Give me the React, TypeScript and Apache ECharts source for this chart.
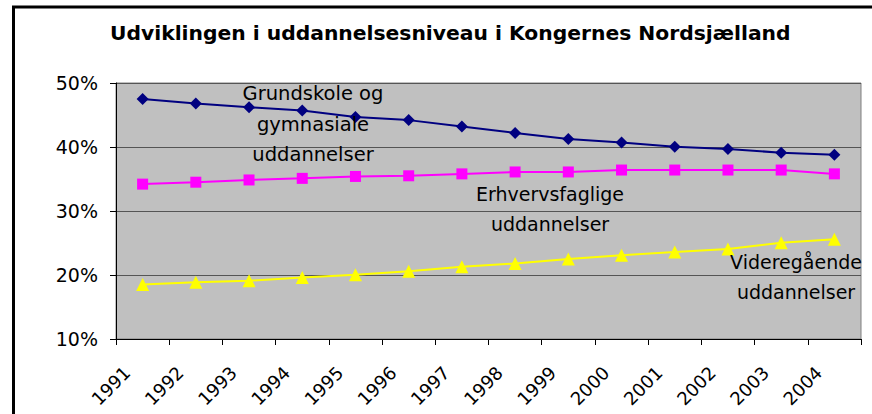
import React, { useEffect, useRef } from "react";
import * as echarts from "echarts";

const years = ["1991","1992","1993","1994","1995","1996","1997","1998","1999","2000","2001","2002","2003","2004"];
const grundskole = [47.5, 46.8, 46.2, 45.7, 44.7, 44.2, 43.2, 42.2, 41.25, 40.7, 40.05, 39.7, 39.1, 38.8];
const erhvervsfaglige = [34.2, 34.5, 34.85, 35.1, 35.4, 35.5, 35.8, 36.1, 36.1, 36.4, 36.4, 36.4, 36.4, 35.8];
const videregaaende = [18.5, 18.85, 19.1, 19.6, 20.05, 20.6, 21.3, 21.8, 22.5, 23.1, 23.6, 24.05, 25.05, 25.6];
const titleText = "Udviklingen i uddannelsesniveau i Kongernes Nordsjælland";
const annotations = ["Grundskole og\ngymnasiale\nuddannelser", "Erhvervsfaglige\nuddannelser", "Videregående\nuddannelser"];

const FONT = "'DejaVu Sans', sans-serif";

export default function App() {
  const ref = useRef<HTMLDivElement>(null);
  useEffect(() => {
    if (!ref.current) return;
    const chart = echarts.init(ref.current, null, { renderer: "svg" });
    chart.setOption({
      animation: false,
      backgroundColor: "#ffffff",
      title: {
        text: titleText,
        left: 110,
        top: 23,
        padding: 0,
        textStyle: { fontFamily: FONT, fontSize: 20.3, fontWeight: "bold", color: "#000" },
      },
      grid: {
        left: 116,
        right: 11,
        top: 83,
        bottom: 75,
        show: true,
        backgroundColor: "#C0C0C0",
        borderColor: "#808080",
        borderWidth: 1,
      },
      xAxis: {
        type: "category",
        data: years,
        boundaryGap: true,
        axisLine: { lineStyle: { color: "#000", width: 1 } },
        axisTick: { show: true, length: 6, lineStyle: { color: "#000" } },
        axisLabel: {
          rotate: 45,
          margin: 15,
          fontFamily: FONT,
          fontSize: 18,
          color: "#000",
          formatter: (v: string) => "{a|" + v + "}",
          rich: {
            a: { fontFamily: FONT, fontSize: 18, color: "#000", padding: [0, 22, 0, 0] },
          },
        },
        splitLine: { show: false },
      },
      yAxis: {
        type: "value",
        min: 10,
        max: 50,
        interval: 10,
        axisLine: { show: true, lineStyle: { color: "#000", width: 1 } },
        axisTick: { show: true, length: 6, lineStyle: { color: "#000" } },
        axisLabel: {
          margin: 18,
          fontFamily: FONT,
          fontSize: 19,
          color: "#000",
          formatter: (v: number) => v + "%",
        },
        splitLine: { show: true, lineStyle: { color: "#555555", width: 1 } },
      },
      series: [
        {
          type: "line",
          data: grundskole,
          symbol: "diamond",
          symbolSize: 12,
          lineStyle: { color: "#000080", width: 2 },
          itemStyle: { color: "#000080" },
        },
        {
          type: "line",
          data: erhvervsfaglige,
          symbol: "rect",
          symbolSize: 11,
          lineStyle: { color: "#FF00FF", width: 2 },
          itemStyle: { color: "#FF00FF" },
        },
        {
          type: "line",
          data: videregaaende,
          symbol: "triangle",
          symbolSize: 13,
          lineStyle: { color: "#FFFF00", width: 2 },
          itemStyle: { color: "#FFFF00" },
        },
      ],
      graphic: [
        {
          type: "rect",
          shape: { x: 13.5, y: 7, width: 900, height: 450 },
          style: { fill: "none", stroke: "#000", lineWidth: 3 },
          silent: true,
          z: 100,
        },
        {
          type: "text",
          x: 313,
          y: 124,
          style: {
            text: annotations[0],
            fontFamily: FONT,
            fontSize: 19.5,
            lineHeight: 30.5,
            fill: "#000",
            align: "center",
            verticalAlign: "middle",
          },
          z: 50,
        },
        {
          type: "text",
          x: 550,
          y: 209,
          style: {
            text: annotations[1],
            fontFamily: FONT,
            fontSize: 19,
            lineHeight: 30,
            fill: "#000",
            align: "center",
            verticalAlign: "middle",
          },
          z: 50,
        },
        {
          type: "text",
          x: 796,
          y: 277,
          style: {
            text: annotations[2],
            fontFamily: FONT,
            fontSize: 19,
            lineHeight: 30,
            fill: "#000",
            align: "center",
            verticalAlign: "middle",
          },
          z: 50,
        },
      ],
    });
    return () => chart.dispose();
  }, []);
  return (
    <div
      ref={ref}
      style={{ position: "fixed", left: 0, top: 0, width: 872, height: 414, background: "#fff" }}
    />
  );
}
